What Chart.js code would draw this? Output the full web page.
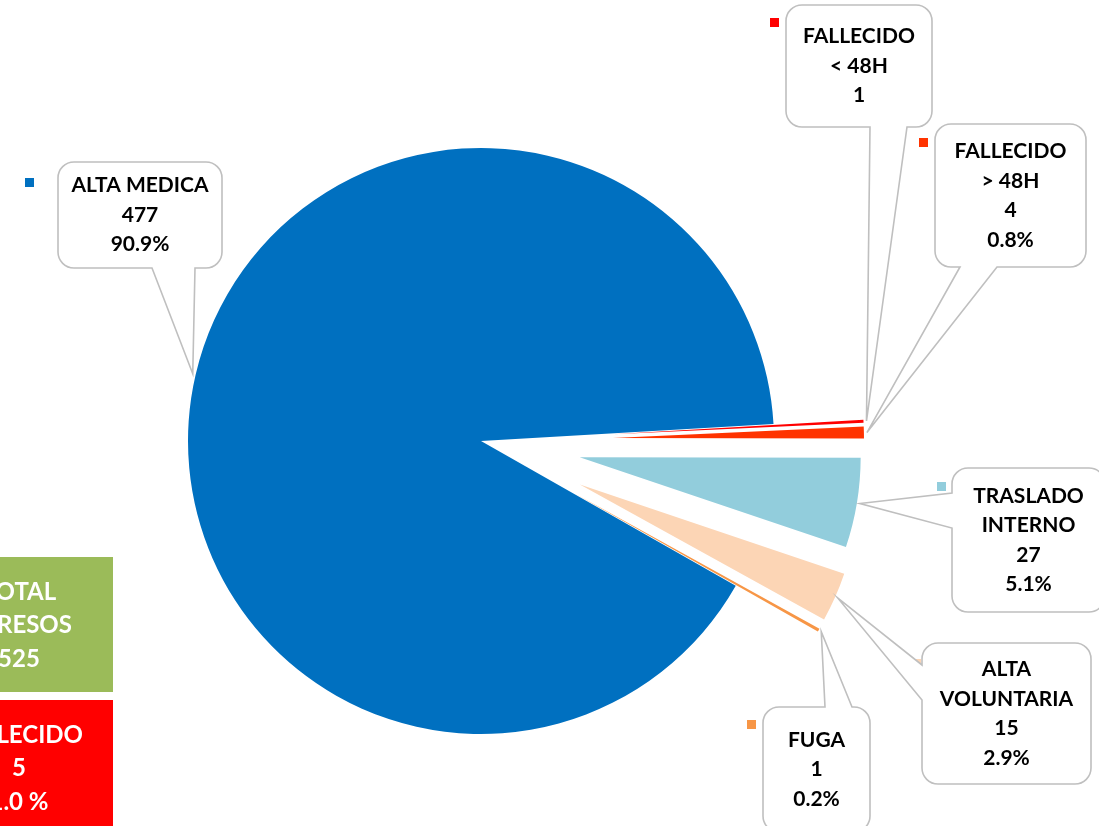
<!DOCTYPE html>
<html lang="es">
<head>
<meta charset="UTF-8">
<title>Egresos</title>
<script src="https://cdn.jsdelivr.net/npm/chart.js@4.4.1/dist/chart.umd.min.js"></script>
<style>
	html, body { margin: 0; padding: 0; background: #fff; overflow: hidden; }
	#pieChart { display: block; }
</style>
</head>
<body>
<canvas id="pieChart" width="1099" height="826"></canvas>
<script>
	// datos
	var categories = ['ALTA MEDICA', 'FALLECIDO < 48H', 'FALLECIDO > 48H', 'TRASLADO INTERNO', 'ALTA VOLUNTARIA', 'FUGA'];
	var labelLines = [['ALTA MEDICA'], ['FALLECIDO', '< 48H'], ['FALLECIDO', '> 48H'], ['TRASLADO', 'INTERNO'], ['ALTA', 'VOLUNTARIA'], ['FUGA']];
	var egresos = [477, 1, 4, 27, 15, 1];
	var showPct = [true, false, true, true, true, true];
	var colors = ['#0070C0', '#FF0000', '#FF3300', '#92CDDC', '#FCD5B5', '#F79646'];
	var fallecidoIdx = [1, 2];

	// separacion de cada porcion (px) y radio de cada porcion
	var shift = [0, 132, 132, 100, 108, 108];
	var sliceRadius = [293, 251, 251, 281, 279, 279];

	// cajas de etiquetas: caja, lado del puntero, hueco del puntero, marcador
	var callouts = [
		{ x: 58, y: 162, w: 164, h: 106, side: 'bottom', a: 152, b: 195, mx: 25, my: 178 },
		{ x: 786, y: 5, w: 146, h: 122, side: 'bottom', a: 870, b: 907, mx: 770, my: 18 },
		{ x: 935, y: 124, w: 151, h: 143, side: 'bottom', a: 960, b: 997, mx: 919, my: 138 },
		{ x: 952, y: 468, w: 153, h: 144, side: 'left', a: 493, b: 528, mx: 937, my: 482 },
		{ x: 922, y: 643, w: 169, h: 141, side: 'left', a: 665, b: 700, mx: 912, my: 659 },
		{ x: 763, y: 707, w: 107, h: 125, side: 'top', a: 825, b: 852, mx: 747, my: 720 }
	];

	var total = egresos.reduce(function (s, v) { return s + v; }, 0);
	var fallecidos = fallecidoIdx.reduce(function (s, i) { return s + egresos[i]; }, 0);
	var FONT = '"Lato", "Liberation Sans", sans-serif';

	function calloutPath(ctx, c, tip, r) {
		var x = c.x, y = c.y, x2 = c.x + c.w, y2 = c.y + c.h;
		ctx.beginPath();
		ctx.moveTo(x + r, y);
		if (c.side === 'top') { ctx.lineTo(c.a, y); ctx.lineTo(tip.x, tip.y); ctx.lineTo(c.b, y); }
		ctx.lineTo(x2 - r, y);
		ctx.arcTo(x2, y, x2, y + r, r);
		ctx.lineTo(x2, y2 - r);
		ctx.arcTo(x2, y2, x2 - r, y2, r);
		if (c.side === 'bottom') { ctx.lineTo(c.b, y2); ctx.lineTo(tip.x, tip.y); ctx.lineTo(c.a, y2); }
		ctx.lineTo(x + r, y2);
		ctx.arcTo(x, y2, x, y2 - r, r);
		if (c.side === 'left') { ctx.lineTo(x, c.b); ctx.lineTo(tip.x, tip.y); ctx.lineTo(x, c.a); }
		ctx.lineTo(x, y + r);
		ctx.arcTo(x, y, x + r, y, r);
		ctx.closePath();
	}

	// porciones separadas: se mueve el centro de cada arco hacia fuera
	var explodePlugin = {
		id: 'explode',
		afterDatasetsUpdate: function (chart) {
			var meta = chart.getDatasetMeta(0);
			meta.data.forEach(function (arc, i) {
				var mid = (arc.startAngle + arc.endAngle) / 2;
				arc.x += Math.cos(mid) * shift[i];
				arc.y += Math.sin(mid) * shift[i];
				arc.outerRadius = sliceRadius[i];
			});
		}
	};

	var calloutPlugin = {
		id: 'callouts',
		afterDraw: function (chart) {
			var ctx = chart.ctx;
			var meta = chart.getDatasetMeta(0);
			ctx.save();

			// marcadores
			callouts.forEach(function (c, i) {
				ctx.fillStyle = colors[i];
				ctx.fillRect(c.mx, c.my, 9, 9);
			});

			callouts.forEach(function (c, i) {
				var arc = meta.data[i];
				var mid = (arc.startAngle + arc.endAngle) / 2;
				var dist = arc.outerRadius + 3;
				var tip = { x: arc.x + Math.cos(mid) * dist, y: arc.y + Math.sin(mid) * dist };
				calloutPath(ctx, c, tip, 16);
				ctx.fillStyle = '#fff';
				ctx.fill();
				ctx.lineWidth = 1.6;
				ctx.strokeStyle = '#BFBFBF';
				ctx.stroke();

				var lines = labelLines[i].slice();
				lines.push(String(egresos[i]));
				if (showPct[i]) lines.push((egresos[i] / total * 100).toFixed(1) + '%');
				var lh = 29.5;
				var cx = c.x + c.w / 2;
				var cy = c.y + c.h / 2 - (lines.length - 1) * lh / 2;
				ctx.fillStyle = '#000';
				ctx.font = 'bold 21px ' + FONT;
				ctx.textAlign = 'center';
				ctx.textBaseline = 'middle';
				lines.forEach(function (t, k) { ctx.fillText(t, cx, cy + k * lh); });
			});

			// cuadros de totales
			ctx.fillStyle = '#9BBB59';
			ctx.fillRect(-75, 557, 188, 135);
			ctx.fillStyle = '#FF0000';
			ctx.fillRect(-75, 700, 188, 130);
			ctx.fillStyle = '#fff';
			ctx.font = 'bold 24px ' + FONT;
			['TOTAL', 'EGRESOS', String(total)].forEach(function (t, k) { ctx.fillText(t, 19, 592 + k * 33.5); });
			['FALLECIDO', String(fallecidos), (fallecidos / total * 100).toFixed(1) + ' %'].forEach(function (t, k) { ctx.fillText(t, 19, 735 + k * 33.5); });

			ctx.restore();
		}
	};

	var pieChart = new Chart(document.getElementById('pieChart'), {
		type: 'pie',
		data: {
			labels: categories,
			datasets: [{
				data: egresos,
				backgroundColor: colors,
				borderWidth: 0,
				hoverOffset: 0
			}]
		},
		plugins: [explodePlugin, calloutPlugin],
		options: {
			responsive: false,
			animation: false,
			devicePixelRatio: 1,
			radius: 293,
			rotation: 119.6,
			layout: { padding: { left: 0, right: 137, top: 56, bottom: 0 } },
			plugins: {
				legend: { display: false },
				tooltip: { enabled: false }
			}
		}
	});
</script>
</body>
</html>
